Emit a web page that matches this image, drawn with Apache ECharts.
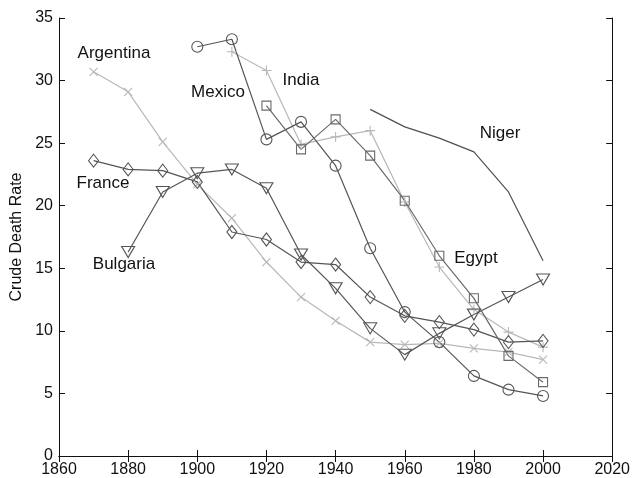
<!DOCTYPE html>
<html>
<head>
<meta charset="utf-8">
<script src="https://cdn.jsdelivr.net/npm/echarts@6/dist/echarts.min.js"></script>
<style>html,body{margin:0;padding:0;background:#fff;}#c{width:633px;height:478px;}</style>
</head>
<body>
<div id="c"></div>
<script>
var years = [1870,1880,1890,1900,1910,1920,1930,1940,1950,1960,1970,1980,1990,2000];
var argentina = [30.7,29.1,25.1,21.7,19.0,15.5,12.7,10.8,9.1,8.9,9.0,8.6,8.3,7.7];
var france = [23.6,22.9,22.8,21.9,17.9,17.3,15.5,15.3,12.7,11.2,10.7,10.1,9.1,9.2];
var bulgaria = [null,16.3,21.1,22.6,22.9,21.4,16.1,13.4,10.2,8.1,9.8,11.3,12.7,14.1];
var mexico = [null,null,null,32.7,33.3,25.3,26.7,23.2,16.6,11.5,9.1,6.4,5.3,4.8];
var india = [null,null,null,null,32.3,30.8,24.9,25.5,26.0,20.3,15.1,11.7,9.9,8.7];
var egypt = [null,null,null,null,null,28.0,24.5,26.9,24.0,20.4,16.0,12.6,8.0,5.9];
var niger = [null,null,null,null,null,null,null,null,27.7,26.3,25.4,24.3,21.1,15.6];
var xTicks = [1860,1880,1900,1920,1940,1960,1980,2000,2020];
var yTicks = [0,5,10,15,20,25,30,35];
var countryLabels = ['Argentina','Mexico','India','Niger','France','Bulgaria','Egypt'];

function pairs(vals){ return years.map(function(y,i){ return [y, vals[i]]; }).filter(function(p){ return p[1] !== null; }); }

var FONT = 'Liberation Sans, Arial, Helvetica, sans-serif';
var DARK = '#555555', MID = '#6a6a6a', LIGHT = '#b8b8b8';
var CROSS = 'path://M0,0L10,10M0,10L10,0';
var PLUS = 'path://M5,0L5,10M0,5L10,5';

function mk(name, vals, color, symbol, size, rotate){
  return {
    name: name, type: 'line', data: pairs(vals),
    symbol: symbol || 'none', symbolSize: size || 10, symbolRotate: rotate || 0,
    showAllSymbol: true,
    lineStyle: { color: color, width: 1.2 },
    itemStyle: { color: 'none', borderColor: color, borderWidth: 1.1 },
    emphasis: { disabled: true },
    animation: false, z: 3
  };
}

var axisCommon = {
  type: 'value', min: 1860, max: 2020, interval: 20,
  axisLine: { show: true, lineStyle: { color: '#111', width: 1 } },
  axisTick: { show: true, inside: true, length: 6, lineStyle: { color: '#111' } },
  splitLine: { show: false }
};

var chart = echarts.init(document.getElementById('c'));
chart.setOption({
  backgroundColor: '#fff',
  animation: false,
  grid: { left: 59, right: 20, top: 18, bottom: 22 },
  xAxis: [
    Object.assign({}, axisCommon, {
      position: 'bottom',
      axisLabel: { color: '#111', fontSize: 16, fontFamily: FONT, margin: 6,
        formatter: function(v){ return xTicks.indexOf(v) >= 0 ? String(v) : ''; } }
    }),
    Object.assign({}, axisCommon, { position: 'top', axisLabel: { show: false } })
  ],
  yAxis: [
    {
      type: 'value', min: 0, max: 35, interval: 5, position: 'left',
      name: 'Crude Death Rate', nameLocation: 'middle', nameGap: 32,
      nameTextStyle: { color: '#111', fontSize: 16, fontFamily: FONT },
      axisLine: { show: true, lineStyle: { color: '#111', width: 1 } },
      axisTick: { show: true, inside: true, length: 6, lineStyle: { color: '#111' } },
      axisLabel: { color: '#111', fontSize: 16, fontFamily: FONT, margin: 6,
        formatter: function(v){ return yTicks.indexOf(v) >= 0 ? String(v) : ''; } },
      splitLine: { show: false }
    },
    {
      type: 'value', min: 0, max: 35, interval: 5, position: 'right',
      axisLine: { show: true, lineStyle: { color: '#111', width: 1 } },
      axisTick: { show: true, inside: true, length: 6, lineStyle: { color: '#111' } },
      axisLabel: { show: false }, splitLine: { show: false }
    }
  ],
  series: [
    mk('Argentina', argentina, LIGHT, CROSS, 8),
    mk('India', india, LIGHT, PLUS, 10),
    mk('France', france, DARK, 'diamond', [10,13]),
    mk('Bulgaria', bulgaria, DARK, 'triangle', [13,11], 180),
    mk('Mexico', mexico, DARK, 'circle', 11),
    mk('Egypt', egypt, MID, 'rect', 9),
    mk('Niger', niger, '#505050', 'none')
  ],
  graphic: [
    [114,53],[218,92],[301,80],[500,133],[103,183],[124,264],[476,258]
  ].map(function(p,i){
    return { type: 'text', x: p[0], y: p[1], z: 10,
      style: { text: countryLabels[i], fill: '#111', font: '17px ' + FONT,
        textAlign: 'center', textVerticalAlign: 'middle' } };
  })
});
</script>
</body>
</html>
